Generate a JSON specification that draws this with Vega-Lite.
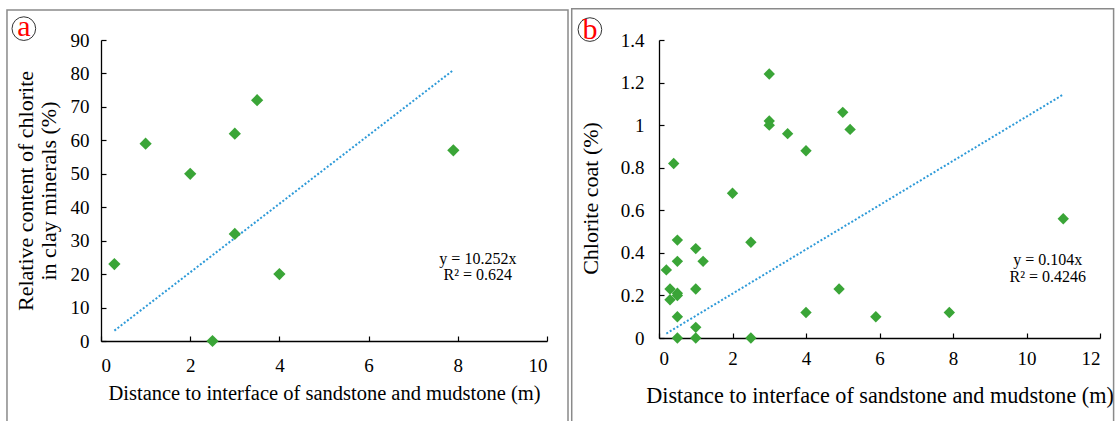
{
  "$schema": "https://vega.github.io/schema/vega-lite/v6.json",
  "padding": {"left": 6, "top": 7, "right": 0, "bottom": 0},
  "background": "white",
  "spacing": 1,
  "config": {
    "view": {"stroke": null},
    "scale": {"continuousPadding": 0},
    "axis": {
      "grid": false,
      "domainColor": "black",
      "domainWidth": 1.3,
      "tickColor": "black",
      "tickWidth": 1.2,
      "tickSize": -5,
      "labelFont": "Liberation Serif",
      "labelFontSize": 19,
      "labelColor": "black",
      "titleFont": "Liberation Serif",
      "titleFontSize": 20.5,
      "titleFontWeight": "normal",
      "titleColor": "black"
    }
  },
  "hconcat": [
    {
      "width": 446,
      "height": 301,
      "encoding": {
        "x": {"field": "x", "type": "quantitative", "scale": {"domain": [0, 10], "nice": false, "zero": false, "padding": 0},
          "axis": {"values": [0, 2, 4, 6, 8, 10], "title": "Distance to interface of sandstone and mudstone (m)", "titlePadding": 8, "labelPadding": 20}},
        "y": {"field": "y", "type": "quantitative", "scale": {"domain": [0, 90], "nice": false, "padding": 0},
          "axis": {"values": [0, 10, 20, 30, 40, 50, 60, 70, 80, 90], "title": ["Relative content of chlorite", "in clay minerals (%)"], "titleFontSize": 22, "titlePadding": 10, "titleLineHeight": 23, "labelPadding": 17}}
      },
      "layer": [
        {
          "data": {"values": [{"x": -2.108, "x2": 10.471, "y": 98.97, "y2": -30}]},
          "mark": {"type": "rect", "fillOpacity": 0, "stroke": "#8a8a8a", "strokeWidth": 1.5},
          "encoding": {"x2": {"field": "x2"}, "y2": {"field": "y2"}}
        },
        {
          "data": {"values": [{"x": 0.3, "y": 3.1}, {"x": 7.9, "y": 81.0}]},
          "mark": {"type": "line", "strokeDash": [2, 2], "strokeWidth": 2, "color": "#2e9ad8"}
        },
        {
          "data": {"values": [
            {"x": 0.3, "y": 23}, {"x": 1, "y": 59}, {"x": 2, "y": 50}, {"x": 3, "y": 62},
            {"x": 3, "y": 32}, {"x": 3.5, "y": 72}, {"x": 2.5, "y": 0}, {"x": 4, "y": 20}, {"x": 7.9, "y": 57}
          ]},
          "mark": {"type": "point", "shape": "diamond", "filled": true, "size": 150, "color": "#3aa537", "opacity": 1}
        },
        {
          "data": {"values": [{"x": 8.45, "y": 24.5, "t": "y = 10.252x"}, {"x": 8.45, "y": 19.8, "t": "R² = 0.624"}]},
          "mark": {"type": "text", "fontSize": 16, "font": "Liberation Serif", "color": "black"},
          "encoding": {"text": {"field": "t"}}
        },
        {
          "data": {"values": [{"x": -1.73, "y": 93.4, "t": "a"}]},
          "mark": {"type": "point", "shape": "circle", "size": 560, "filled": false, "stroke": "#333", "strokeWidth": 1, "opacity": 1}
        },
        {
          "data": {"values": [{"x": -1.73, "y": 93.4, "t": "a"}]},
          "mark": {"type": "text", "fontSize": 30, "color": "red", "font": "Liberation Serif", "baseline": "middle", "dy": -2},
          "encoding": {"text": {"field": "t"}}
        }
      ]
    },
    {
      "width": 441,
      "height": 298,
      "encoding": {
        "x": {"field": "x", "type": "quantitative", "scale": {"domain": [0, 12], "nice": false, "zero": false, "padding": 0},
          "axis": {"values": [0, 2, 4, 6, 8, 10, 12], "title": "Distance to interface of sandstone and mudstone (m)", "titleFontSize": 22.2, "titlePadding": 16, "labelPadding": 16}},
        "y": {"field": "y", "type": "quantitative", "scale": {"domain": [0, 1.4], "nice": false, "padding": 0},
          "axis": {"values": [0, 0.2, 0.4, 0.6, 0.8, 1, 1.2, 1.4], "format": "~g", "title": "Chlorite coat (%)", "titleFontSize": 22, "titlePadding": 18, "titleY": 158, "labelPadding": 20}}
      },
      "layer": [
        {
          "data": {"values": [{"x": -2.375, "x2": 12.37, "y": 1.547, "y2": -0.5}]},
          "mark": {"type": "rect", "fillOpacity": 0, "stroke": "#8a8a8a", "strokeWidth": 1.5},
          "encoding": {"x2": {"field": "x2"}, "y2": {"field": "y2"}}
        },
        {
          "data": {"values": [{"x": 0.2, "y": 0.021}, {"x": 11, "y": 1.144}]},
          "mark": {"type": "line", "strokeDash": [2, 2], "strokeWidth": 2, "color": "#2e9ad8"}
        },
        {
          "data": {"values": [
            {"x": 3, "y": 1.24}, {"x": 3, "y": 1.02}, {"x": 3, "y": 1.0}, {"x": 3.5, "y": 0.96},
            {"x": 4, "y": 0.88}, {"x": 5, "y": 1.06}, {"x": 5.2, "y": 0.98}, {"x": 0.4, "y": 0.82},
            {"x": 2, "y": 0.68}, {"x": 11, "y": 0.56}, {"x": 0.5, "y": 0.46}, {"x": 2.5, "y": 0.45},
            {"x": 1, "y": 0.42}, {"x": 0.5, "y": 0.36}, {"x": 1.2, "y": 0.36}, {"x": 0.2, "y": 0.32},
            {"x": 0.3, "y": 0.23}, {"x": 1, "y": 0.23}, {"x": 4.9, "y": 0.23}, {"x": 0.5, "y": 0.21},
            {"x": 0.5, "y": 0.2}, {"x": 0.3, "y": 0.18}, {"x": 0.5, "y": 0.1}, {"x": 1, "y": 0.05},
            {"x": 0.5, "y": 0}, {"x": 1, "y": 0}, {"x": 2.5, "y": 0}, {"x": 4, "y": 0.12},
            {"x": 5.9, "y": 0.1}, {"x": 7.9, "y": 0.12}
          ]},
          "mark": {"type": "point", "shape": "diamond", "filled": true, "size": 130, "color": "#3aa537", "opacity": 1}
        },
        {
          "data": {"values": [{"x": 10.58, "y": 0.365, "t": "y = 0.104x"}, {"x": 10.58, "y": 0.285, "t": "R² = 0.4246"}]},
          "mark": {"type": "text", "fontSize": 16, "font": "Liberation Serif", "color": "black"},
          "encoding": {"text": {"field": "t"}}
        },
        {
          "data": {"values": [{"x": -1.88, "y": 1.449, "t": "b"}]},
          "mark": {"type": "point", "shape": "circle", "size": 560, "filled": false, "stroke": "#333", "strokeWidth": 1, "opacity": 1}
        },
        {
          "data": {"values": [{"x": -1.88, "y": 1.449, "t": "b"}]},
          "mark": {"type": "text", "fontSize": 30, "color": "red", "font": "Liberation Serif", "baseline": "middle", "dy": 0},
          "encoding": {"text": {"field": "t"}}
        }
      ]
    }
  ]
}
